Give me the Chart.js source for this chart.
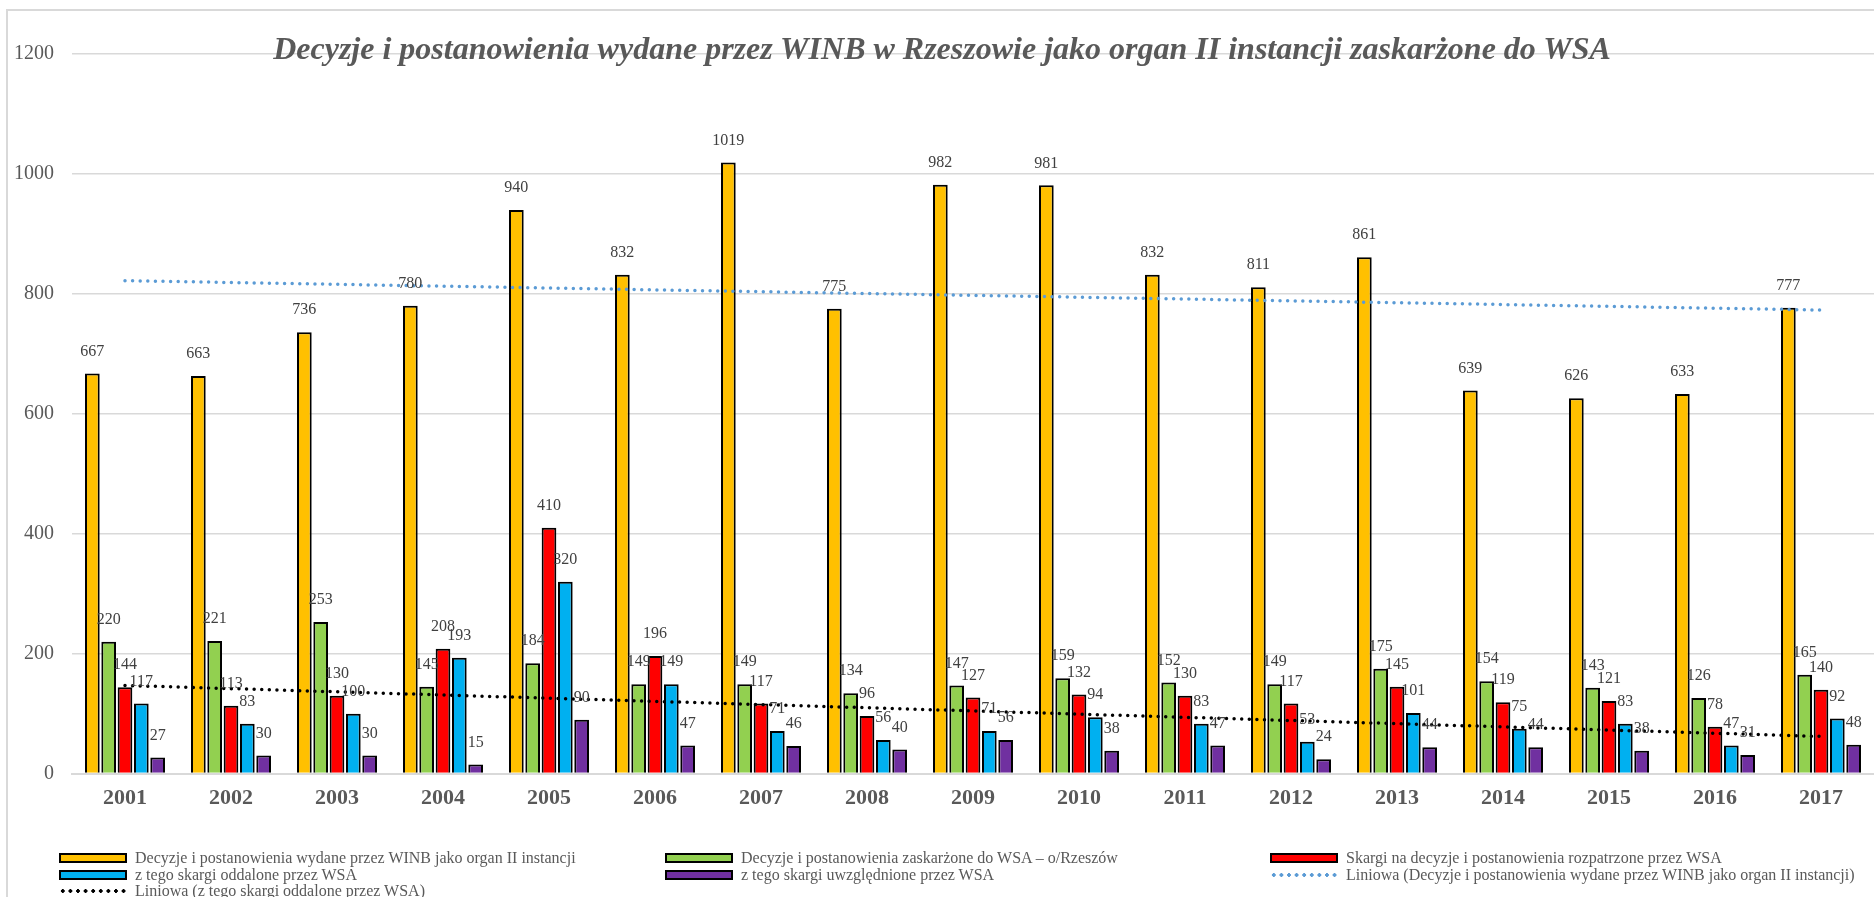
<!DOCTYPE html>
<html lang="pl">
<head>
<meta charset="utf-8">
<title>Decyzje i postanowienia WINB Rzeszów</title>
<script src="https://cdn.jsdelivr.net/npm/chart.js@4/dist/chart.umd.min.js"></script>
<style>
  body { margin: 0; background: #fff; }
  #wrap { position: relative; width: 1874px; height: 897px; overflow: hidden; font-family: "Liberation Serif", "Times New Roman", serif; }
  #frame { position: absolute; left: 6px; top: 9px; width: 1900px; height: 900px; border: 2px solid #d9d9d9; box-sizing: border-box; }
  #chart { position: absolute; left: 0; top: 0; }
  #title { position: absolute; left: 0; width: 1884px; top: 29px; text-align: center; font: italic bold 32px "Liberation Serif", serif; color: #595959; line-height: 38px; }
  #legend { position: absolute; left: 0; top: 850px; width: 1874px; }
  .item { position: absolute; height: 15px; display: flex; align-items: center; font-size: 16px; color: #595959; white-space: nowrap; }
  .swatch { width: 68px; height: 10px; box-sizing: border-box; border: 2px solid #000; margin-right: 8px; }
  .dots { width: 68px; height: 4px; margin-right: 8px; background-size: 7.6px 4px; background-position: 0 0; }
</style>
</head>
<body>
<div id="wrap">
  <div id="frame"></div>
  <canvas id="chart" width="1874" height="897"></canvas>
  <div id="title">Decyzje i postanowienia wydane przez WINB w Rzeszowie jako organ II instancji zaskarżone do WSA</div>
  <div id="legend"></div>
</div>
<script>
// ---------- Dane ----------
const lata = ["2001","2002","2003","2004","2005","2006","2007","2008","2009","2010","2011","2012","2013","2014","2015","2016","2017"];
const wydane       = [667, 663, 736, 780, 940, 832, 1019, 775, 982, 981, 832, 811, 861, 639, 626, 633, 777];
const zaskarzone   = [220, 221, 253, 145, 184, 149, 149, 134, 147, 159, 152, 149, 175, 154, 143, 126, 165];
const rozpatrzone  = [144, 113, 130, 208, 410, 196, 117, 96, 127, 132, 130, 117, 145, 119, 121, 78, 140];
const oddalone     = [117, 83, 100, 193, 320, 149, 71, 56, 71, 94, 83, 53, 101, 75, 83, 47, 92];
const uwzglednione = [27, 30, 30, 15, 90, 47, 46, 40, 56, 38, 47, 24, 44, 44, 38, 31, 48];
// trend lines: value at 2001 and at 2017
const trendWydane   = [822, 773];
const trendOddalone = [147, 62];
const yTicks = [0, 200, 400, 600, 800, 1000, 1200];

const serie = [
  { label: "Decyzje i postanowienia wydane przez WINB jako organ II instancji", data: wydane, color: "#FFC000" },
  { label: "Decyzje i postanowienia zaskarżone do WSA – o/Rzeszów", data: zaskarzone, color: "#92D050" },
  { label: "Skargi na decyzje i postanowienia rozpatrzone przez WSA", data: rozpatrzone, color: "#FF0000" },
  { label: "z tego skargi oddalone przez WSA", data: oddalone, color: "#00B0F0" },
  { label: "z tego skargi uwzględnione przez WSA", data: uwzglednione, color: "#7030A0" }
];

function endsOnly(ends) {
  return lata.map((_, i) => i === 0 ? ends[0] : (i === lata.length - 1 ? ends[1] : null));
}

const trendy = [
  { label: "Liniowa (Decyzje i postanowienia wydane przez WINB jako organ II instancji)", data: endsOnly(trendWydane), color: "#5B9BD5" },
  { label: "Liniowa (z tego skargi oddalone przez WSA)", data: endsOnly(trendOddalone), color: "#000000" }
];

// ---------- Etykiety danych ----------
const dataLabels = {
  id: "dataLabels",
  afterDatasetsDraw(chart) {
    const ctx = chart.ctx;
    ctx.save();
    ctx.font = '16px "Liberation Serif", serif';
    ctx.fillStyle = "#404040";
    ctx.textAlign = "center";
    ctx.textBaseline = "bottom";
    chart.data.datasets.forEach((ds, di) => {
      if (ds.type !== "bar") return;
      chart.getDatasetMeta(di).data.forEach((el, i) => {
        ctx.fillText(String(ds.data[i]), el.x, el.y - 14);
      });
    });
    ctx.restore();
  }
};

Chart.defaults.font.family = '"Liberation Serif", "Times New Roman", serif';
Chart.defaults.color = "#595959";

const datasets = serie.map(s => ({
  type: "bar",
  label: s.label,
  data: s.data,
  backgroundColor: s.color,
  borderColor: "#000",
  borderWidth: 2,
  categoryPercentage: 0.77,
  barPercentage: 0.9,
  order: 2
})).concat(trendy.map(t => ({
  type: "line",
  label: t.label,
  data: t.data,
  borderColor: t.color,
  borderWidth: 3.5,
  borderDash: [0, 7.6],
  borderCapStyle: "round",
  pointRadius: 0,
  spanGaps: true,
  fill: false,
  order: 1
})));

new Chart(document.getElementById("chart"), {
  data: { labels: lata, datasets: datasets },
  options: {
    responsive: false,
    animation: false,
    layout: { padding: { left: 14, right: 0, top: 54, bottom: 73 } },
    plugins: {
      legend: { display: false },
      title: { display: false },
      tooltip: { enabled: false }
    },
    scales: {
      x: {
        grid: { display: false, drawTicks: false },
        border: { color: "#d9d9d9", width: 2 },
        ticks: { padding: 12, font: { size: 22, weight: "bold" }, color: "#595959" }
      },
      y: {
        min: 0,
        max: 1200,
        afterBuildTicks: (axis) => { axis.ticks = yTicks.map(v => ({ value: v })); },
        afterFit: (axis) => { axis.width = 58; },
        grid: { color: "#d9d9d9", lineWidth: 1.5, drawTicks: false },
        border: { display: false },
        ticks: { padding: 18, font: { size: 20 }, color: "#595959", callback: (v) => String(v) }
      }
    }
  },
  plugins: [dataLabels]
});

// ---------- Legenda (HTML) ----------
const legendEl = document.getElementById("legend");
const colX = [59, 665, 1270];
const rowY = [0, 17, 33];
const legendItems = serie.map(s => ({ label: s.label, color: s.color, line: false }))
  .concat(trendy.map(t => ({ label: t.label, color: t.color, line: true })));
legendItems.forEach((it, i) => {
  const div = document.createElement("div");
  div.className = "item";
  div.style.left = colX[i % 3] + "px";
  div.style.top = rowY[Math.floor(i / 3)] + "px";
  const mark = document.createElement("span");
  if (it.line) {
    mark.className = "dots";
    mark.style.backgroundImage = `radial-gradient(circle, ${it.color} 1.6px, transparent 1.9px)`;
  } else {
    mark.className = "swatch";
    mark.style.background = it.color;
  }
  const txt = document.createElement("span");
  txt.textContent = it.label;
  div.appendChild(mark);
  div.appendChild(txt);
  legendEl.appendChild(div);
});
</script>
</body>
</html>
